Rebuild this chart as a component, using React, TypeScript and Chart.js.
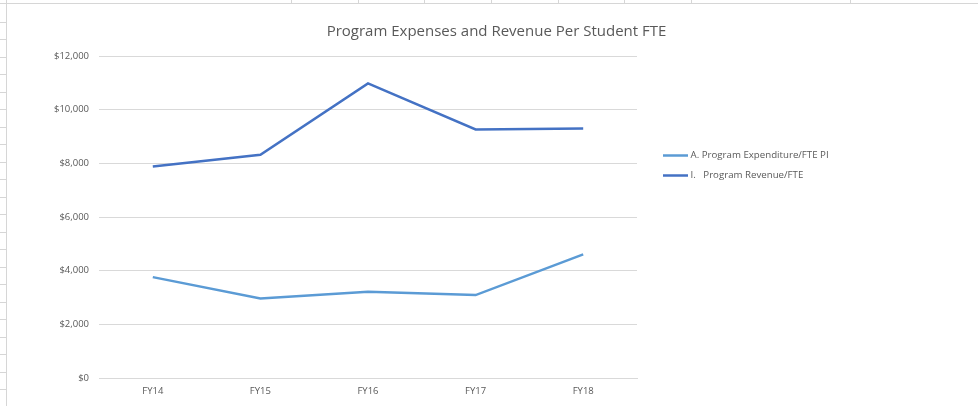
import React, { useEffect, useRef } from "react";
import { Chart, registerables } from "chart.js";

Chart.register(...registerables);

const categories = ["FY14", "FY15", "FY16", "FY17", "FY18"];
const expenditure = [3760, 2960, 3210, 3090, 4605];
const revenue = [7880, 8320, 10980, 9260, 9300];
const seriesNames = ["A. Program Expenditure/FTE PI", "I.   Program Revenue/FTE"];
const seriesColors = ["#5B9BD5", "#4472C4"];
const chartTitle = "Program Expenses and Revenue Per Student FTE";
const yTicks = [0, 2000, 4000, 6000, 8000, 10000, 12000];

const FONT = "'Open Sans', 'Noto Sans', sans-serif";
const TEXT = "#595959";

const decorPlugin = {
  id: "decor",
  beforeDraw(chart: any) {
    const ctx = chart.ctx;
    ctx.save();
    ctx.fillStyle = "#ffffff";
    ctx.fillRect(0, 0, chart.width, chart.height);
    ctx.strokeStyle = "#d6d6d6";
    ctx.lineWidth = 1;
    ctx.beginPath();
    ctx.moveTo(0, 3.5);
    ctx.lineTo(chart.width, 3.5);
    ctx.moveTo(6.5, 0);
    ctx.lineTo(6.5, chart.height);
    const cols = [291, 358, 424, 491, 558, 624, 691, 850];
    cols.forEach((x) => {
      ctx.moveTo(x + 0.5, 0);
      ctx.lineTo(x + 0.5, 3);
    });
    for (let y = 21.5; y < chart.height; y += 17.5) {
      const yy = Math.round(y) + 0.5;
      ctx.moveTo(0, yy);
      ctx.lineTo(6, yy);
    }
    ctx.stroke();
    ctx.restore();
  },
  afterDraw(chart: any) {
    const ctx = chart.ctx;
    ctx.save();
    ctx.fillStyle = TEXT;
    ctx.font = `15px ${FONT}`;
    ctx.textAlign = "center";
    ctx.textBaseline = "middle";
    ctx.fillText(chartTitle, 496.5, 32);
    ctx.font = `9.7px ${FONT}`;
    ctx.textAlign = "left";
    chart.data.datasets.forEach((ds: any, i: number) => {
      const y = 155.5 + i * 20;
      ctx.strokeStyle = ds.borderColor;
      ctx.lineWidth = 2.5;
      ctx.beginPath();
      ctx.moveTo(663, y);
      ctx.lineTo(688, y);
      ctx.stroke();
      ctx.fillStyle = TEXT;
      ctx.fillText(ds.label, 690.5, y);
    });
    ctx.restore();
  },
};

export default function App() {
  const ref = useRef<HTMLCanvasElement | null>(null);
  useEffect(() => {
    document.body.style.margin = "0";
    const canvas = ref.current;
    if (!canvas) return;
    const chart = new Chart(canvas, {
      type: "line",
      data: {
        labels: categories,
        datasets: [
          {
            label: seriesNames[0],
            data: expenditure,
            borderColor: seriesColors[0],
            backgroundColor: seriesColors[0],
            borderWidth: 2.5,
            pointRadius: 0,
            tension: 0,
          },
          {
            label: seriesNames[1],
            data: revenue,
            borderColor: seriesColors[1],
            backgroundColor: seriesColors[1],
            borderWidth: 2.5,
            pointRadius: 0,
            tension: 0,
          },
        ],
      },
      options: {
        responsive: false,
        animation: false,
        devicePixelRatio: 1,
        layout: { padding: { left: 0, top: 56, right: 341, bottom: 0 } },
        plugins: {
          legend: { display: false },
          title: { display: false },
          tooltip: { enabled: false },
        },
        scales: {
          x: {
            offset: true,
            grid: { display: false, drawTicks: false },
            border: { display: true, color: "#d9d9d9", width: 1 },
            ticks: {
              color: TEXT,
              font: { family: FONT, size: 9.5 },
              padding: 8,
              maxRotation: 0,
            },
            afterFit: (s: any) => {
              s.height = 28;
            },
          },
          y: {
            min: 0,
            max: 12000,
            afterBuildTicks: (s: any) => {
              s.ticks = yTicks.map((v) => ({ value: v }));
            },
            grid: { color: "#d9d9d9", drawTicks: false, lineWidth: 1 },
            border: { display: false },
            ticks: {
              color: TEXT,
              font: { family: FONT, size: 9.5 },
              padding: 10,
              callback: (v: any) => "$" + Number(v).toLocaleString("en-US"),
            },
            afterFit: (s: any) => {
              s.width = 99;
            },
          },
        },
      },
      plugins: [decorPlugin],
    });
    return () => chart.destroy();
  }, []);
  return (
    <canvas
      ref={ref}
      width={978}
      height={406}
      style={{ display: "block", width: 978, height: 406 }}
    />
  );
}
